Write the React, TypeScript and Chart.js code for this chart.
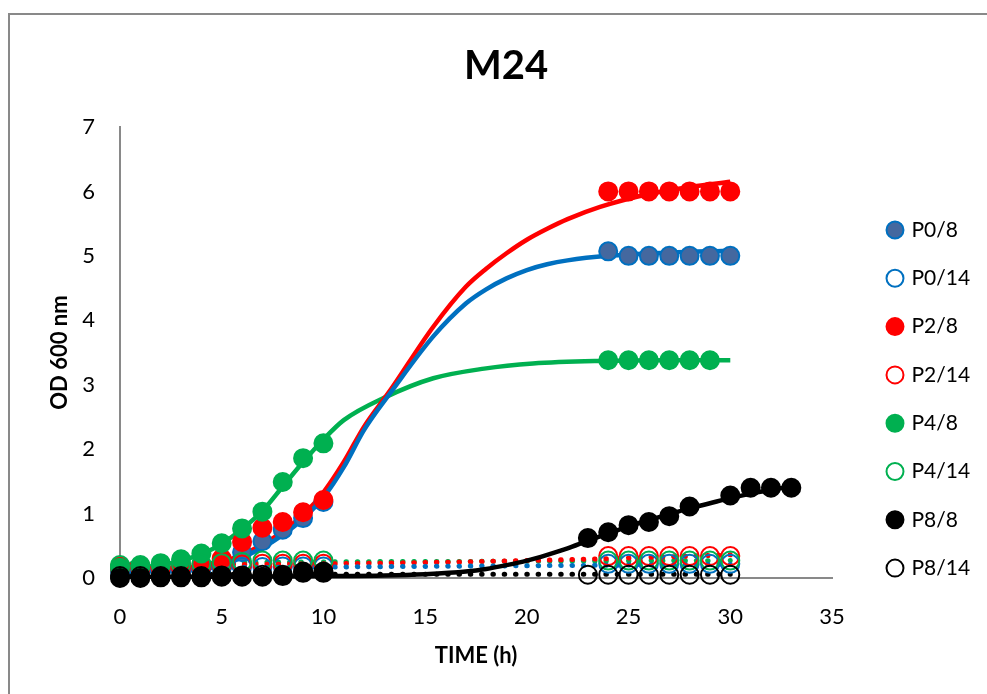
import React, { useEffect, useRef } from 'react';
import { Chart, registerables } from 'chart.js';

Chart.register(...registerables);

// ---- text ----
const TITLE = 'M24';
const X_TITLE = 'TIME (h)';
const Y_TITLE = 'OD 600 nm';
const X_TICKS = [0, 5, 10, 15, 20, 25, 30, 35];
const Y_TICKS = [0, 1, 2, 3, 4, 5, 6, 7];
const SERIES_LABELS = ['P0/8', 'P0/14', 'P2/8', 'P2/14', 'P4/8', 'P4/14', 'P8/8', 'P8/14'];

// ---- measured points ----
const earlyX = [0, 1, 2, 3, 4, 5, 6, 7, 8, 9, 10];

const p0_8_x = [...earlyX, 24, 25, 26, 27, 28, 29, 30];
const p0_8_y = [0.10, 0.10, 0.10, 0.12, 0.14, 0.20, 0.40, 0.57, 0.75, 0.93, 1.18, 5.07, 5.00, 5.00, 5.00, 5.00, 5.00, 5.00];

const p0_14_x = [...earlyX, 24, 25, 26, 27, 28, 29, 30];
const p0_14_y = [0.15, 0.15, 0.15, 0.15, 0.15, 0.16, 0.17, 0.17, 0.18, 0.18, 0.18, 0.22, 0.22, 0.22, 0.22, 0.22, 0.22, 0.22];

const p2_8_x = [...earlyX, 24, 25, 26, 27, 28, 29, 30];
const p2_8_y = [0.15, 0.15, 0.15, 0.15, 0.18, 0.30, 0.56, 0.78, 0.87, 1.02, 1.21, 6.00, 6.00, 6.00, 6.00, 6.00, 6.00, 6.00];

const p2_14_x = [...earlyX, 24, 25, 26, 27, 28, 29, 30];
const p2_14_y = [0.18, 0.18, 0.18, 0.18, 0.19, 0.20, 0.21, 0.22, 0.22, 0.22, 0.22, 0.34, 0.34, 0.34, 0.34, 0.34, 0.34, 0.34];

const p4_8_x = [...earlyX, 24, 25, 26, 27, 28, 29];
const p4_8_y = [0.16, 0.18, 0.23, 0.29, 0.38, 0.54, 0.77, 1.03, 1.49, 1.86, 2.09, 3.38, 3.38, 3.38, 3.38, 3.38, 3.38];

const p4_14_x = [...earlyX, 24, 25, 26, 27, 28, 29, 30];
const p4_14_y = [0.20, 0.20, 0.20, 0.21, 0.22, 0.23, 0.25, 0.27, 0.27, 0.27, 0.27, 0.27, 0.27, 0.27, 0.27, 0.27, 0.27, 0.27];

const p8_8_x = [...earlyX, 23, 24, 25, 26, 27, 28, 30, 31, 32, 33];
const p8_8_y = [0.00, 0.00, 0.01, 0.01, 0.01, 0.02, 0.02, 0.02, 0.03, 0.10, 0.10, 0.62, 0.71, 0.82, 0.87, 0.96, 1.11, 1.28, 1.40, 1.40, 1.40];

const p8_14_x = [...earlyX, 23, 24, 25, 26, 27, 28, 29, 30];
const p8_14_y = [0.03, 0.03, 0.03, 0.03, 0.03, 0.04, 0.04, 0.05, 0.05, 0.08, 0.08, 0.05, 0.05, 0.05, 0.05, 0.05, 0.05, 0.05, 0.05];

// ---- trend lines ----
const p0_8_trend_x = [0, 2, 4, 5, 6, 7, 8, 9, 10, 11, 12, 13.4, 15.4, 17, 18, 19, 20, 21, 22, 24, 27, 30];
const p0_8_trend_y = [0.10, 0.10, 0.13, 0.20, 0.32, 0.47, 0.67, 0.92, 1.25, 1.72, 2.30, 2.92, 3.75, 4.26, 4.48, 4.65, 4.78, 4.87, 4.93, 5.00, 5.05, 5.08];

const p2_8_trend_x = [0, 2, 4, 5, 6, 7, 8, 9, 10, 11, 12, 13.3, 15.4, 17, 18, 19, 20, 21, 22, 23.6, 26, 28, 30];
const p2_8_trend_y = [0.15, 0.15, 0.18, 0.25, 0.36, 0.52, 0.72, 0.98, 1.33, 1.80, 2.35, 2.92, 3.90, 4.52, 4.80, 5.04, 5.25, 5.42, 5.57, 5.76, 5.96, 6.07, 6.15];

const p4_8_trend_x = [0, 2, 3, 4, 5, 6, 7, 8, 9, 10, 11, 13, 15.4, 17.9, 20.3, 23.6, 27, 30];
const p4_8_trend_y = [0.15, 0.20, 0.27, 0.37, 0.53, 0.76, 1.04, 1.42, 1.80, 2.15, 2.45, 2.80, 3.10, 3.25, 3.33, 3.37, 3.38, 3.38];

const p8_8_trend_x = [0, 5, 10, 13, 15, 17, 18, 19, 20, 21, 22, 23, 24, 25, 26, 27, 28, 29, 30, 31, 33];
const p8_8_trend_y = [0.02, 0.02, 0.03, 0.04, 0.06, 0.10, 0.14, 0.20, 0.27, 0.36, 0.46, 0.58, 0.69, 0.80, 0.90, 0.99, 1.08, 1.16, 1.24, 1.31, 1.42];

const p0_14_trend_x = [0, 10, 20, 30];
const p0_14_trend_y = [0.15, 0.17, 0.19, 0.21];

const p2_14_trend_x = [0, 10, 15, 20, 25, 30];
const p2_14_trend_y = [0.20, 0.22, 0.24, 0.27, 0.31, 0.36];

const p4_14_trend_x = [0, 10, 20, 30];
const p4_14_trend_y = [0.22, 0.25, 0.26, 0.27];

const p8_14_trend_x = [0, 30];
const p8_14_trend_y = [0.06, 0.06];

// ---- style constants ----
const BLUE = '#0070C0';
const BLUE_FILL = '#44689F';
const RED = '#FF0000';
const GREEN = '#00B050';
const BLACK = '#000000';
const AXIS_GRAY = '#898989';
const FONT = 'Lato, "Open Sans", "DejaVu Sans", sans-serif';

const LEGEND_FONT_SIZE = 21;
const LEGEND_PAD = 27.3;
const LEGEND_FIRST_CENTER_Y = 230;
const LEGEND_ITEM_X = 889;
const LEGEND_BOX_W = 155;

const zip = (xs: number[], ys: number[]) => xs.map((x, i) => ({ x, y: ys[i] }));

const legendPlacer = {
  id: 'legendPlacer',
  beforeLayout(chart: any) {
    const lg = chart.legend;
    if (lg && !lg.__patched) {
      const orig = lg.fit;
      lg.fit = function () {
        orig.call(this);
        this.width = LEGEND_BOX_W;
      };
      lg.__patched = true;
    }
  },
  afterLayout(chart: any) {
    const lg = chart.legend;
    if (!lg || !lg.columnSizes || !lg.columnSizes[0]) return;
    const colH = lg.columnSizes[0].height;
    const y0 = (lg.top + LEGEND_PAD + lg.bottom - colH) / 2;
    const dy = LEGEND_FIRST_CENTER_Y - LEGEND_FONT_SIZE / 2 - y0;
    lg.top += dy;
    lg.bottom += dy;
    const dx = LEGEND_ITEM_X - (lg.left + LEGEND_PAD);
    lg.left += dx;
    lg.right += dx;
  },
};

export default function App() {
  const canvasRef = useRef<HTMLCanvasElement | null>(null);

  useEffect(() => {
    const canvas = canvasRef.current;
    if (!canvas) return;

    const filled = (label: string, data: any[], fill: string, border: string, order: number) => ({
      label,
      data,
      showLine: false,
      pointRadius: 9,
      pointHoverRadius: 9,
      pointBorderWidth: 2,
      pointBackgroundColor: fill,
      pointBorderColor: border,
      backgroundColor: fill,
      borderColor: border,
      borderWidth: 2,
      clip: false,
      order,
    });
    const open = (label: string, data: any[], color: string, order: number) => ({
      label,
      data,
      showLine: false,
      pointRadius: 9,
      pointHoverRadius: 9,
      pointBorderWidth: 2,
      pointBackgroundColor: 'rgba(255,255,255,0)',
      pointBorderColor: color,
      backgroundColor: 'rgba(255,255,255,0)',
      borderColor: color,
      borderWidth: 2,
      clip: false,
      order,
    });
    const trend = (data: any[], color: string, dotted: boolean) => ({
      label: 'trend',
      isTrend: true,
      data,
      showLine: true,
      pointRadius: 0,
      pointHoverRadius: 0,
      borderColor: color,
      backgroundColor: color,
      borderWidth: dotted ? 5 : 4.5,
      borderDash: dotted ? [0.5, 10.8] : [],
      borderCapStyle: dotted ? 'round' : 'butt',
      borderJoinStyle: 'round',
      cubicInterpolationMode: 'monotone',
      fill: false,
      clip: false,
      order: dotted ? 30 : 20,
    });

    const chart = new Chart(canvas, {
      type: 'scatter',
      data: {
        datasets: [
          filled(SERIES_LABELS[0], zip(p0_8_x, p0_8_y), BLUE_FILL, BLUE, 8),
          open(SERIES_LABELS[1], zip(p0_14_x, p0_14_y), BLUE, 7),
          filled(SERIES_LABELS[2], zip(p2_8_x, p2_8_y), RED, RED, 6),
          open(SERIES_LABELS[3], zip(p2_14_x, p2_14_y), RED, 5),
          filled(SERIES_LABELS[4], zip(p4_8_x, p4_8_y), GREEN, GREEN, 4),
          open(SERIES_LABELS[5], zip(p4_14_x, p4_14_y), GREEN, 3),
          filled(SERIES_LABELS[6], zip(p8_8_x, p8_8_y), BLACK, BLACK, 2),
          open(SERIES_LABELS[7], zip(p8_14_x, p8_14_y), BLACK, 1),
          trend(zip(p0_8_trend_x, p0_8_trend_y), BLUE, false),
          trend(zip(p2_8_trend_x, p2_8_trend_y), RED, false),
          trend(zip(p4_8_trend_x, p4_8_trend_y), GREEN, false),
          trend(zip(p8_8_trend_x, p8_8_trend_y), BLACK, false),
          trend(zip(p0_14_trend_x, p0_14_trend_y), BLUE, true),
          trend(zip(p2_14_trend_x, p2_14_trend_y), RED, true),
          trend(zip(p4_14_trend_x, p4_14_trend_y), GREEN, true),
          trend(zip(p8_14_trend_x, p8_14_trend_y), BLACK, true),
        ] as any,
      },
      options: {
        responsive: false,
        maintainAspectRatio: false,
        devicePixelRatio: 1,
        animation: false,
        events: [],
        layout: { padding: { left: 25, right: 0, top: 0, bottom: 0 } },
        font: { family: FONT },
        scales: {
          x: {
            type: 'linear',
            min: 0,
            max: 35,
            afterBuildTicks: (s: any) => {
              s.ticks = X_TICKS.map((v) => ({ value: v }));
            },
            afterFit: (s: any) => {
              s.height = 116;
            },
            ticks: {
              padding: 26,
              color: '#000',
              font: { family: FONT, size: 22 },
            },
            grid: { display: false, drawTicks: false },
            border: { display: true, color: AXIS_GRAY, width: 2 },
            title: {
              display: true,
              text: X_TITLE,
              color: '#000',
              font: { family: FONT, size: 22, weight: 'bold' },
              padding: { top: 0, bottom: 25 },
            },
          },
          y: {
            type: 'linear',
            min: 0,
            max: 7,
            afterBuildTicks: (s: any) => {
              s.ticks = Y_TICKS.map((v) => ({ value: v }));
            },
            afterFit: (s: any) => {
              s.width = 95;
            },
            ticks: {
              padding: 25,
              color: '#000',
              font: { family: FONT, size: 22 },
            },
            grid: { display: false, drawTicks: false },
            border: { display: true, color: AXIS_GRAY, width: 2 },
            title: {
              display: true,
              text: Y_TITLE,
              color: '#000',
              font: { family: FONT, size: 22, weight: 'bold' },
              padding: { top: 22, bottom: 0 },
            },
          },
        },
        plugins: {
          title: {
            display: true,
            text: TITLE,
            color: '#000',
            font: { family: FONT, size: 40, weight: 'bold' },
            padding: { top: 42, bottom: 37 },
          },
          legend: {
            display: true,
            position: 'right',
            labels: {
              usePointStyle: true,
              boxWidth: 12,
              boxHeight: 12,
              padding: LEGEND_PAD,
              color: '#000',
              font: { family: FONT, size: LEGEND_FONT_SIZE },
              filter: (item: any, data: any) => !data.datasets[item.datasetIndex].isTrend,
              sort: (a: any, b: any) => a.datasetIndex - b.datasetIndex,
            },
          },
          tooltip: { enabled: false },
        },
      } as any,
      plugins: [legendPlacer as any],
    });

    return () => {
      chart.destroy();
    };
  }, []);

  return (
    <div
      style={{
        position: 'fixed',
        left: 0,
        top: 0,
        width: 987,
        height: 694,
        background: '#fff',
        overflow: 'hidden',
      }}
    >
      <div
        style={{
          position: 'absolute',
          left: 8,
          top: 13,
          width: 1100,
          height: 800,
          borderLeft: `2px solid ${AXIS_GRAY}`,
          borderTop: `2px solid ${AXIS_GRAY}`,
          boxSizing: 'border-box',
        }}
      />
      <canvas
        ref={canvasRef}
        width={987}
        height={694}
        style={{ position: 'absolute', left: 0, top: 0, width: 987, height: 694, display: 'block' }}
      />
    </div>
  );
}
